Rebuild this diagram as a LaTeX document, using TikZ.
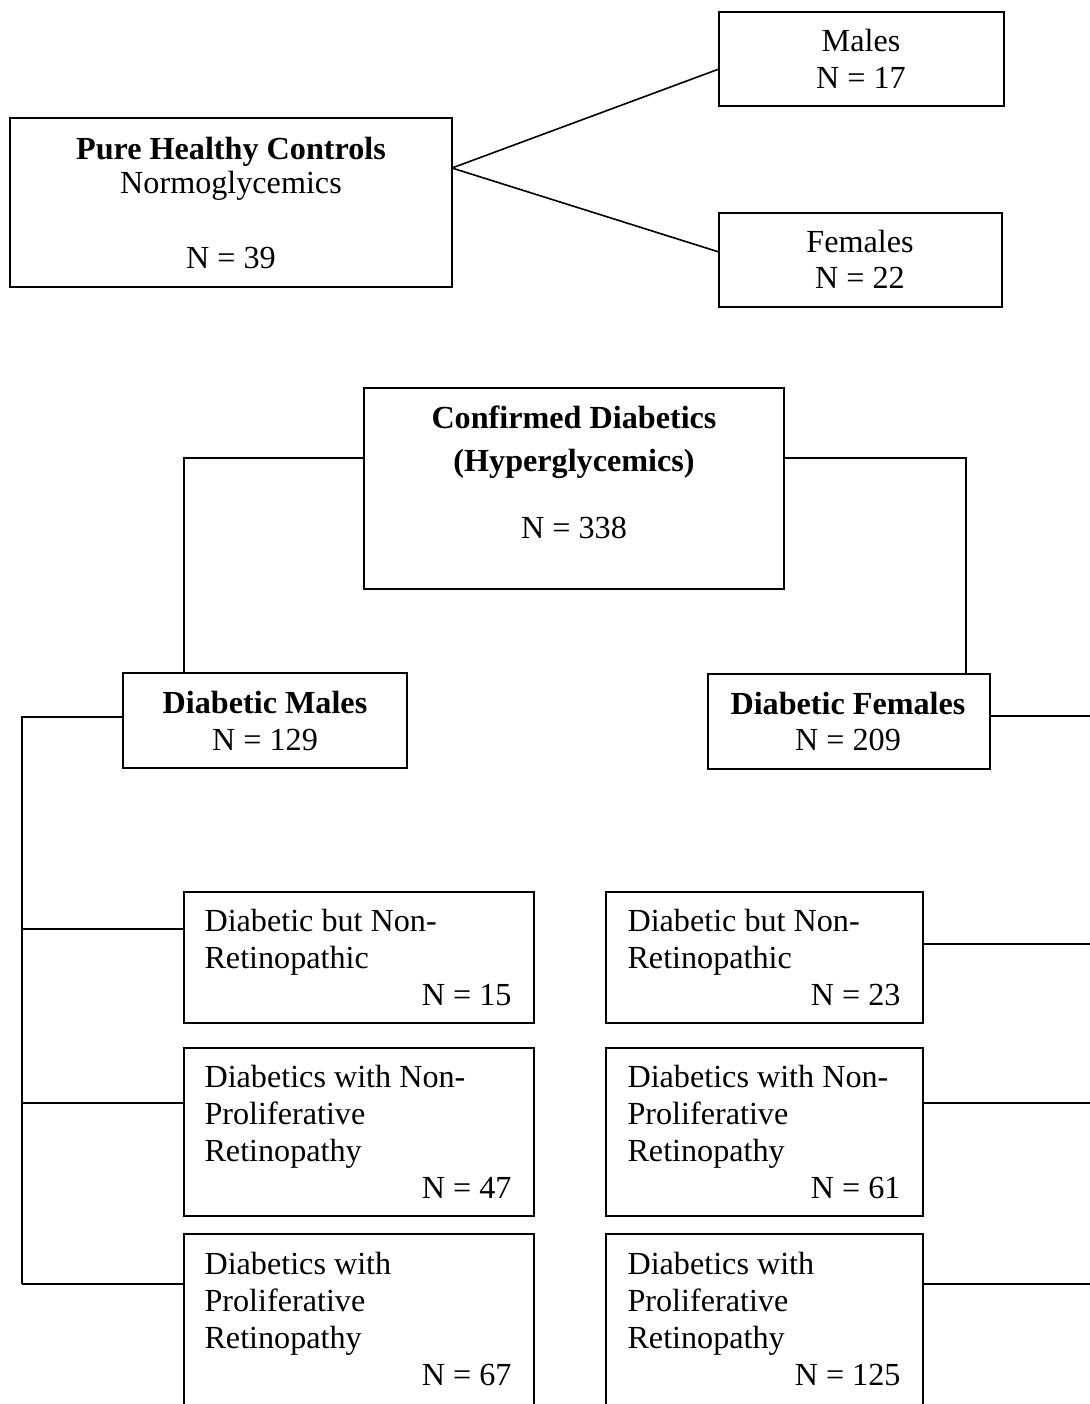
\documentclass[tikz,border=0pt]{standalone}
\usepackage{fontspec}
\setmainfont{Liberation Serif}
\def\pxu{0.3731pt}
\tikzset{
  boxst/.style={draw, line width=0.6pt, rectangle, inner sep=0pt},
  conn/.style={line width=0.6pt},
  txt/.style={inner sep=0pt, font=\fontsize{12}{13.8}\selectfont},
  txtb/.style={inner sep=0pt, font=\fontsize{12}{13.8}\selectfont\bfseries}
}
\newcommand\mybox[5]{\node[boxst, minimum width={(#4-#2)*\pxu}, minimum height={(#5-#3)*\pxu}] (#1) at ({(#2+#4)/2},{(#3+#5)/2}) {};}
\begin{document}
\begin{tikzpicture}[x=0.3731pt,y=-0.3731pt]
\clip (0,0) rectangle (1090,1404);
% boxes
\mybox{phc}{10}{118}{452}{287}
\mybox{males}{719}{12}{1004}{106}
\mybox{females}{719}{213}{1002}{307}
\mybox{conf}{364}{388}{784}{589}
\mybox{dm}{123}{673}{407}{768}
\mybox{df}{708}{674}{990}{769}
\mybox{lA}{184}{892}{534}{1023}
\mybox{lB}{184}{1048}{534}{1216}
\mybox{lC}{184}{1234}{534}{1440}
\mybox{rA}{606}{892}{923}{1023}
\mybox{rB}{606}{1048}{923}{1216}
\mybox{rC}{606}{1234}{923}{1440}
% texts
\node[txtb, anchor=base] (phc1) at (231,159) {Pure Healthy Controls};
\node[txt, anchor=base] (phc2) at (231,193) {Normoglycemics};
\node[txt, anchor=base] (phc3) at (231,268) {N = 39};
\node[txt, anchor=base] (m1) at (861,51) {Males};
\node[txt, anchor=base] (m2) at (861,88) {N = 17};
\node[txt, anchor=base] (f1) at (860,252) {Females};
\node[txt, anchor=base] (f2) at (860,288) {N = 22};
\node[txtb, anchor=base] (c1) at (574,428) {Confirmed Diabetics};
\node[txtb, anchor=base] (c2) at (574,471) {(Hyperglycemics)};
\node[txt, anchor=base] (c3) at (574,538) {N = 338};
\node[txtb, anchor=base] (dm1) at (265,713) {Diabetic Males};
\node[txt, anchor=base] (dm2) at (265,750) {N = 129};
\node[txtb, anchor=base] (df1) at (848,714) {Diabetic Females};
\node[txt, anchor=base] (df2) at (848,750) {N = 209};
% left column texts
\node[txt, anchor=base west] (la1) at (204,931) {Diabetic but Non-};
\node[txt, anchor=base west] (la2) at (204,968) {Retinopathic};
\node[txt, anchor=base east] (la3) at (512,1005) {N = 15};
\node[txt, anchor=base west] (lb1) at (204,1087) {Diabetics with Non-};
\node[txt, anchor=base west] (lb2) at (204,1124) {Proliferative};
\node[txt, anchor=base west] (lb3) at (204,1161) {Retinopathy};
\node[txt, anchor=base east] (lb4) at (512,1198) {N = 47};
\node[txt, anchor=base west] (lc1) at (204,1274) {Diabetics with};
\node[txt, anchor=base west] (lc2) at (204,1311) {Proliferative};
\node[txt, anchor=base west] (lc3) at (204,1348) {Retinopathy};
\node[txt, anchor=base east] (lc4) at (512,1385) {N = 67};
% right column texts
\node[txt, anchor=base west] (ra1) at (627,931) {Diabetic but Non-};
\node[txt, anchor=base west] (ra2) at (627,968) {Retinopathic};
\node[txt, anchor=base east] (ra3) at (901,1005) {N = 23};
\node[txt, anchor=base west] (rb1) at (627,1087) {Diabetics with Non-};
\node[txt, anchor=base west] (rb2) at (627,1124) {Proliferative};
\node[txt, anchor=base west] (rb3) at (627,1161) {Retinopathy};
\node[txt, anchor=base east] (rb4) at (901,1198) {N = 61};
\node[txt, anchor=base west] (rc1) at (627,1274) {Diabetics with};
\node[txt, anchor=base west] (rc2) at (627,1311) {Proliferative};
\node[txt, anchor=base west] (rc3) at (627,1348) {Retinopathy};
\node[txt, anchor=base east] (rc4) at (901,1385) {N = 125};
% connector points
\coordinate (phcR) at (452,168);
\coordinate (malesL) at (719,69);
\coordinate (femalesL) at (719,252);
\coordinate (confL) at (364,458);
\coordinate (confR) at (784,458);
\coordinate (dmT) at (184,673);
\coordinate (dfT) at (966,674);
\coordinate (dmL) at (123,717);
\coordinate (dfR) at (990,716);
\coordinate (lbus) at (22,1284);
\coordinate (lAL) at (184,929);
\coordinate (lBL) at (184,1103);
\coordinate (lCL) at (184,1284);
\coordinate (rAR) at (923,944);
\coordinate (rBR) at (923,1103);
\coordinate (rCR) at (923,1284);
\coordinate (edgeDF) at (1090,716);
\coordinate (edgeA) at (1090,944);
\coordinate (edgeB) at (1090,1103);
\coordinate (edgeC) at (1090,1284);
% connectors
\draw[conn] (phcR) -- (malesL);
\draw[conn] (phcR) -- (femalesL);
\draw[conn] (confL) -| (dmT);
\draw[conn] (confR) -| (dfT);
\draw[conn] (dmL) -| (lbus);
\draw[conn] (lAL) -- (lAL -| lbus);
\draw[conn] (lBL) -- (lBL -| lbus);
\draw[conn] (lCL) -- (lbus);
\draw[conn] (dfR) -- (edgeDF);
\draw[conn] (rAR) -- (edgeA);
\draw[conn] (rBR) -- (edgeB);
\draw[conn] (rCR) -- (edgeC);
\end{tikzpicture}
\end{document}
